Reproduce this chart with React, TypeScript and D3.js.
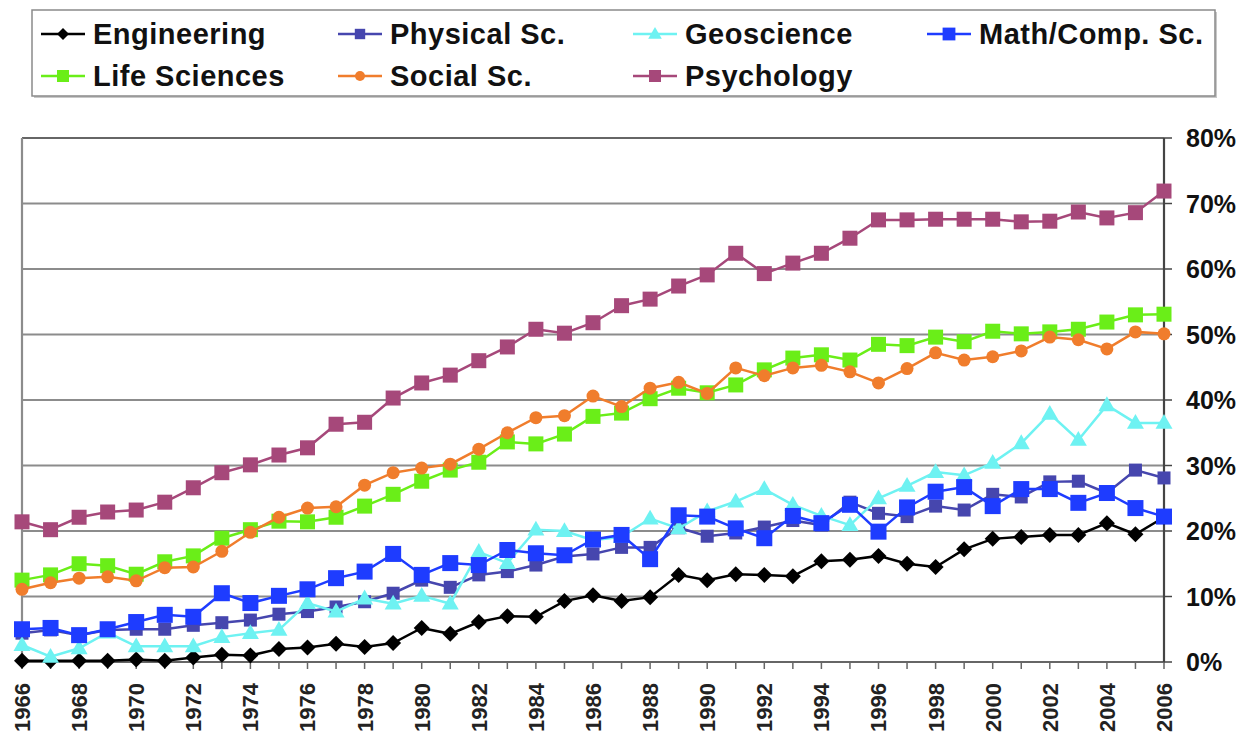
import React from "react";
import * as d3 from "d3";

const years = [1966,1967,1968,1969,1970,1971,1972,1973,1974,1975,1976,1977,1978,1979,1980,1981,1982,1983,1984,1985,1986,1987,1988,1989,1990,1991,1992,1993,1994,1995,1996,1997,1998,1999,2000,2001,2002,2003,2004,2005,2006];

const engineering = [0.2,0.2,0.2,0.2,0.4,0.2,0.7,1.1,1.0,2.0,2.2,2.8,2.3,2.9,5.2,4.3,6.1,7.0,6.9,9.3,10.2,9.3,9.9,13.3,12.5,13.4,13.3,13.1,15.4,15.6,16.2,15.0,14.5,17.2,18.8,19.1,19.4,19.4,21.2,19.5,22.1];
const physicalSc = [4.4,4.9,4.1,4.9,5.0,5.0,5.6,6.0,6.4,7.3,7.7,8.4,9.2,10.5,12.5,11.4,13.3,13.8,14.8,16.1,16.5,17.5,17.5,20.5,19.2,19.7,20.6,21.6,20.9,24.4,22.7,22.2,23.8,23.2,25.6,25.2,27.5,27.6,25.8,29.3,28.1];
const geoscience = [2.6,0.8,2.1,4.5,2.4,2.4,2.4,3.8,4.4,4.9,9.0,7.7,9.7,8.9,10.1,8.9,16.8,15.1,20.2,20.0,18.6,19.1,21.9,20.4,23.0,24.5,26.4,24.0,22.3,20.9,25.0,26.9,29.0,28.5,30.4,33.4,37.9,33.9,39.2,36.5,36.5];
const mathCompSc = [5.0,5.2,4.1,5.0,6.1,7.2,6.9,10.5,9.0,10.1,11.1,12.8,13.8,16.5,13.3,15.1,14.8,17.1,16.6,16.3,18.7,19.4,15.7,22.4,22.2,20.4,18.9,22.3,21.2,24.0,19.9,23.6,26.0,26.7,23.8,26.4,26.4,24.3,25.8,23.5,22.2];
const lifeSciences = [12.5,13.3,15.0,14.7,13.4,15.3,16.2,18.9,20.2,21.5,21.4,22.1,23.8,25.6,27.6,29.3,30.5,33.6,33.3,34.8,37.5,38.0,40.2,41.8,41.1,42.3,44.6,46.4,46.9,46.1,48.5,48.3,49.6,48.9,50.5,50.1,50.4,50.8,51.9,53.0,53.1];
const socialSc = [11.1,12.1,12.8,13.0,12.4,14.4,14.5,16.9,19.8,22.1,23.5,23.7,27.0,28.9,29.6,30.2,32.5,35.0,37.3,37.6,40.6,39.0,41.8,42.7,41.0,44.9,43.7,44.9,45.3,44.3,42.6,44.8,47.2,46.1,46.6,47.5,49.6,49.2,47.8,50.4,50.1];
const psychology = [21.4,20.2,22.1,22.9,23.2,24.4,26.6,28.9,30.1,31.6,32.7,36.3,36.6,40.3,42.6,43.8,46.0,48.1,50.8,50.2,51.8,54.4,55.4,57.4,59.1,62.4,59.3,60.9,62.4,64.7,67.5,67.5,67.6,67.6,67.6,67.2,67.3,68.7,67.8,68.6,71.9];

const yTicks = [0,10,20,30,40,50,60,70,80];
const xLabelYears = [1966,1968,1970,1972,1974,1976,1978,1980,1982,1984,1986,1988,1990,1992,1994,1996,1998,2000,2002,2004,2006];

type Shape = "diamond" | "square" | "triangle" | "circle";
interface Series { name: string; values: number[]; color: string; shape: Shape; size: number; }

const series: Series[] = [
  { name: "Engineering", values: engineering, color: "#000000", shape: "diamond", size: 8 },
  { name: "Physical Sc.", values: physicalSc, color: "#4646AE", shape: "square", size: 13 },
  { name: "Geoscience", values: geoscience, color: "#6EF2F2", shape: "triangle", size: 17 },
  { name: "Math/Comp. Sc.", values: mathCompSc, color: "#1E3CFF", shape: "square", size: 16 },
  { name: "Life Sciences", values: lifeSciences, color: "#6AEE18", shape: "square", size: 15 },
  { name: "Social Sc.", values: socialSc, color: "#F07D2C", shape: "circle", size: 6.5 },
  { name: "Psychology", values: psychology, color: "#A6487A", shape: "square", size: 15 },
];

const legendPos = [
  { x: 41, y: 34 }, { x: 338, y: 34 }, { x: 633, y: 34 }, { x: 927, y: 34 },
  { x: 41, y: 76 }, { x: 338, y: 76 }, { x: 633, y: 76 },
];

function Marker({ shape, size, color, cx, cy }: { shape: Shape; size: number; color: string; cx: number; cy: number }) {
  if (shape === "square") {
    return <rect x={cx - size / 2} y={cy - size / 2} width={size} height={size} fill={color} />;
  }
  if (shape === "circle") {
    return <circle cx={cx} cy={cy} r={size} fill={color} />;
  }
  if (shape === "diamond") {
    const s = size;
    return <path d={`M${cx},${cy - s}L${cx + s},${cy}L${cx},${cy + s}L${cx - s},${cy}Z`} fill={color} />;
  }
  const s = size;
  const h = s * 0.87;
  return <path d={`M${cx},${cy - h * 0.6}L${cx + s / 2},${cy + h * 0.4}L${cx - s / 2},${cy + h * 0.4}Z`} fill={color} />;
}

export default function App() {
  const W = 1244, H = 736;
  const x = d3.scaleLinear().domain([1966, 2006]).range([22, 1164]);
  const y = d3.scaleLinear().domain([0, 80]).range([662, 138]);
  const line = d3.line<number>().x((_, i) => x(years[i])).y((v) => y(v));
  const font = "'Liberation Sans', Arial, sans-serif";

  return (
    <svg width={W} height={H} style={{ position: "absolute", left: 0, top: 0, background: "#fff" }} fontFamily={font}>
      {/* legend */}
      <rect x={34} y={12} width={1183} height={86} fill="#c8c8c8" />
      <rect x={32} y={10} width={1183} height={86} fill="#fff" stroke="#8a8a8a" strokeWidth={1.5} />
      {series.map((s, i) => {
        const p = legendPos[i];
        return (
          <g key={s.name}>
            <line x1={p.x} x2={p.x + 44} y1={p.y} y2={p.y} stroke={s.color} strokeWidth={2.5} />
            <Marker shape={s.shape} size={s.shape === "circle" ? 5 : s.shape === "diamond" ? 6 : s.size * 0.8} color={s.color} cx={p.x + 22} cy={p.y} />
            <text x={p.x + 52} y={p.y} dy="0.36em" fontSize={29} fontWeight="bold" fill="#111" letterSpacing={0.5}>{s.name}</text>
          </g>
        );
      })}

      {/* gridlines */}
      {yTicks.map((t) => (
        <line key={t} x1={x(1966)} x2={x(2006)} y1={y(t)} y2={y(t)} stroke={t === 80 ? "#666" : "#8c8c8c"} strokeWidth={2.2} />
      ))}
      {/* left border */}
      <line x1={x(1966)} x2={x(1966)} y1={y(80)} y2={y(0)} stroke="#8c8c8c" strokeWidth={2.2} />
      {/* bottom axis */}
      <line x1={x(1966)} x2={x(2006)} y1={y(0)} y2={y(0)} stroke="#666" strokeWidth={2.2} />
      {years.map((yr) => (
        <line key={yr} x1={x(yr)} x2={x(yr)} y1={y(0)} y2={y(0) + 7} stroke="#666" strokeWidth={1.5} />
      ))}
      {xLabelYears.map((yr) => (
        <text key={yr} transform={`translate(${x(yr)},${y(0) + 21}) rotate(-90)`} textAnchor="end" dy="0.36em" fontSize={22} fontWeight="bold" fill="#222">{yr}</text>
      ))}
      {/* right axis */}
      <line x1={x(2006)} x2={x(2006)} y1={y(80)} y2={y(0)} stroke="#444" strokeWidth={2.2} />
      {yTicks.map((t) => (
        <g key={t}>
          <line x1={x(2006)} x2={x(2006) + 8} y1={y(t)} y2={y(t)} stroke="#444" strokeWidth={1.5} />
          <text x={1186} y={y(t)} dy="0.36em" fontSize={25} fontWeight="bold" fill="#111">{t}%</text>
        </g>
      ))}

      {/* series */}
      {series.map((s) => (
        <g key={s.name}>
          <path d={line(s.values) || ""} fill="none" stroke={s.color} strokeWidth={2.5} />
          {s.values.map((v, i) => (
            <Marker key={i} shape={s.shape} size={s.size} color={s.color} cx={x(years[i])} cy={y(v)} />
          ))}
        </g>
      ))}
    </svg>
  );
}
